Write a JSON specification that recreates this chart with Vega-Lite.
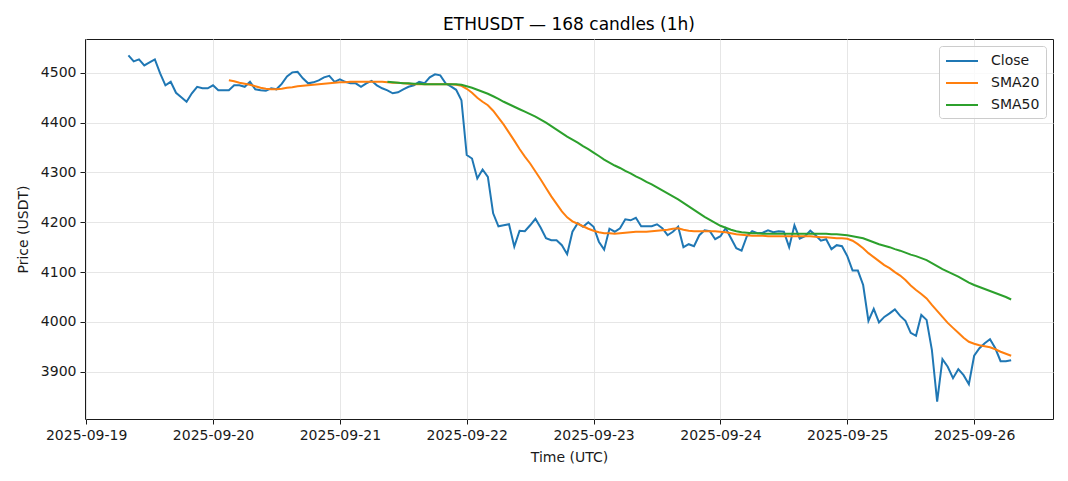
{
  "$schema": "https://vega.github.io/schema/vega-lite/v6.json",
  "width": 968,
  "height": 380,
  "autosize": {"type": "none"},
  "padding": {"left": 85, "top": 39, "right": 15, "bottom": 62},
  "title": {"text": "ETHUSDT — 168 candles (1h)", "fontSize": 17, "fontWeight": "normal", "offset": 5, "anchor": "middle", "color": "#000000"},
  "data": {"values": [
    {"t":"2025-09-19T08:00:00Z","Close":4535},
    {"t":"2025-09-19T09:00:00Z","Close":4523},
    {"t":"2025-09-19T10:00:00Z","Close":4527},
    {"t":"2025-09-19T11:00:00Z","Close":4515},
    {"t":"2025-09-19T12:00:00Z","Close":4521},
    {"t":"2025-09-19T13:00:00Z","Close":4527},
    {"t":"2025-09-19T14:00:00Z","Close":4499},
    {"t":"2025-09-19T15:00:00Z","Close":4475},
    {"t":"2025-09-19T16:00:00Z","Close":4482},
    {"t":"2025-09-19T17:00:00Z","Close":4460},
    {"t":"2025-09-19T18:00:00Z","Close":4451},
    {"t":"2025-09-19T19:00:00Z","Close":4442},
    {"t":"2025-09-19T20:00:00Z","Close":4459},
    {"t":"2025-09-19T21:00:00Z","Close":4472},
    {"t":"2025-09-19T22:00:00Z","Close":4469},
    {"t":"2025-09-19T23:00:00Z","Close":4469},
    {"t":"2025-09-20T00:00:00Z","Close":4475},
    {"t":"2025-09-20T01:00:00Z","Close":4465},
    {"t":"2025-09-20T02:00:00Z","Close":4465},
    {"t":"2025-09-20T03:00:00Z","Close":4465,"SMA20":4485},
    {"t":"2025-09-20T04:00:00Z","Close":4475,"SMA20":4483},
    {"t":"2025-09-20T05:00:00Z","Close":4475,"SMA20":4480},
    {"t":"2025-09-20T06:00:00Z","Close":4472,"SMA20":4478},
    {"t":"2025-09-20T07:00:00Z","Close":4482,"SMA20":4476},
    {"t":"2025-09-20T08:00:00Z","Close":4467,"SMA20":4473},
    {"t":"2025-09-20T09:00:00Z","Close":4465,"SMA20":4470},
    {"t":"2025-09-20T10:00:00Z","Close":4464,"SMA20":4468},
    {"t":"2025-09-20T11:00:00Z","Close":4469,"SMA20":4467},
    {"t":"2025-09-20T12:00:00Z","Close":4467,"SMA20":4467},
    {"t":"2025-09-20T13:00:00Z","Close":4478,"SMA20":4468},
    {"t":"2025-09-20T14:00:00Z","Close":4493,"SMA20":4470},
    {"t":"2025-09-20T15:00:00Z","Close":4501,"SMA20":4471},
    {"t":"2025-09-20T16:00:00Z","Close":4502,"SMA20":4473},
    {"t":"2025-09-20T17:00:00Z","Close":4489,"SMA20":4474},
    {"t":"2025-09-20T18:00:00Z","Close":4479,"SMA20":4475},
    {"t":"2025-09-20T19:00:00Z","Close":4481,"SMA20":4476},
    {"t":"2025-09-20T20:00:00Z","Close":4485,"SMA20":4477},
    {"t":"2025-09-20T21:00:00Z","Close":4491,"SMA20":4478},
    {"t":"2025-09-20T22:00:00Z","Close":4494,"SMA20":4479},
    {"t":"2025-09-20T23:00:00Z","Close":4482,"SMA20":4480},
    {"t":"2025-09-21T00:00:00Z","Close":4487,"SMA20":4481},
    {"t":"2025-09-21T01:00:00Z","Close":4482,"SMA20":4481},
    {"t":"2025-09-21T02:00:00Z","Close":4479,"SMA20":4482},
    {"t":"2025-09-21T03:00:00Z","Close":4479,"SMA20":4482},
    {"t":"2025-09-21T04:00:00Z","Close":4472,"SMA20":4482},
    {"t":"2025-09-21T05:00:00Z","Close":4479,"SMA20":4482},
    {"t":"2025-09-21T06:00:00Z","Close":4484,"SMA20":4482},
    {"t":"2025-09-21T07:00:00Z","Close":4475,"SMA20":4482},
    {"t":"2025-09-21T08:00:00Z","Close":4469,"SMA20":4482},
    {"t":"2025-09-21T09:00:00Z","Close":4465,"SMA20":4481,"SMA50":4482},
    {"t":"2025-09-21T10:00:00Z","Close":4459,"SMA20":4480,"SMA50":4481},
    {"t":"2025-09-21T11:00:00Z","Close":4461,"SMA20":4480,"SMA50":4480},
    {"t":"2025-09-21T12:00:00Z","Close":4467,"SMA20":4479,"SMA50":4479},
    {"t":"2025-09-21T13:00:00Z","Close":4472,"SMA20":4478,"SMA50":4479},
    {"t":"2025-09-21T14:00:00Z","Close":4475,"SMA20":4477,"SMA50":4478},
    {"t":"2025-09-21T15:00:00Z","Close":4482,"SMA20":4477,"SMA50":4478},
    {"t":"2025-09-21T16:00:00Z","Close":4479,"SMA20":4477,"SMA50":4477},
    {"t":"2025-09-21T17:00:00Z","Close":4491,"SMA20":4477,"SMA50":4477},
    {"t":"2025-09-21T18:00:00Z","Close":4497,"SMA20":4477,"SMA50":4477},
    {"t":"2025-09-21T19:00:00Z","Close":4495,"SMA20":4477,"SMA50":4477},
    {"t":"2025-09-21T20:00:00Z","Close":4479,"SMA20":4477,"SMA50":4477},
    {"t":"2025-09-21T21:00:00Z","Close":4473,"SMA20":4477,"SMA50":4477},
    {"t":"2025-09-21T22:00:00Z","Close":4466,"SMA20":4476,"SMA50":4477},
    {"t":"2025-09-21T23:00:00Z","Close":4445,"SMA20":4474,"SMA50":4476},
    {"t":"2025-09-22T00:00:00Z","Close":4335,"SMA20":4468,"SMA50":4473},
    {"t":"2025-09-22T01:00:00Z","Close":4328,"SMA20":4460,"SMA50":4470},
    {"t":"2025-09-22T02:00:00Z","Close":4288,"SMA20":4450,"SMA50":4466},
    {"t":"2025-09-22T03:00:00Z","Close":4306,"SMA20":4442,"SMA50":4462},
    {"t":"2025-09-22T04:00:00Z","Close":4291,"SMA20":4435,"SMA50":4458},
    {"t":"2025-09-22T05:00:00Z","Close":4218,"SMA20":4424,"SMA50":4453},
    {"t":"2025-09-22T06:00:00Z","Close":4192,"SMA20":4410,"SMA50":4448},
    {"t":"2025-09-22T07:00:00Z","Close":4194,"SMA20":4396,"SMA50":4442},
    {"t":"2025-09-22T08:00:00Z","Close":4196,"SMA20":4380,"SMA50":4437},
    {"t":"2025-09-22T09:00:00Z","Close":4151,"SMA20":4364,"SMA50":4432},
    {"t":"2025-09-22T10:00:00Z","Close":4183,"SMA20":4347,"SMA50":4427},
    {"t":"2025-09-22T11:00:00Z","Close":4182,"SMA20":4332,"SMA50":4422},
    {"t":"2025-09-22T12:00:00Z","Close":4194,"SMA20":4318,"SMA50":4417},
    {"t":"2025-09-22T13:00:00Z","Close":4207,"SMA20":4302,"SMA50":4412},
    {"t":"2025-09-22T14:00:00Z","Close":4189,"SMA20":4286,"SMA50":4406},
    {"t":"2025-09-22T15:00:00Z","Close":4168,"SMA20":4269,"SMA50":4400},
    {"t":"2025-09-22T16:00:00Z","Close":4164,"SMA20":4252,"SMA50":4393},
    {"t":"2025-09-22T17:00:00Z","Close":4164,"SMA20":4237,"SMA50":4386},
    {"t":"2025-09-22T18:00:00Z","Close":4154,"SMA20":4222,"SMA50":4379},
    {"t":"2025-09-22T19:00:00Z","Close":4136,"SMA20":4210,"SMA50":4372},
    {"t":"2025-09-22T20:00:00Z","Close":4181,"SMA20":4202,"SMA50":4366},
    {"t":"2025-09-22T21:00:00Z","Close":4198,"SMA20":4197,"SMA50":4360},
    {"t":"2025-09-22T22:00:00Z","Close":4191,"SMA20":4192,"SMA50":4353},
    {"t":"2025-09-22T23:00:00Z","Close":4200,"SMA20":4187,"SMA50":4347},
    {"t":"2025-09-23T00:00:00Z","Close":4191,"SMA20":4183,"SMA50":4340},
    {"t":"2025-09-23T01:00:00Z","Close":4161,"SMA20":4180,"SMA50":4333},
    {"t":"2025-09-23T02:00:00Z","Close":4145,"SMA20":4178,"SMA50":4326},
    {"t":"2025-09-23T03:00:00Z","Close":4187,"SMA20":4178,"SMA50":4320},
    {"t":"2025-09-23T04:00:00Z","Close":4181,"SMA20":4177,"SMA50":4314},
    {"t":"2025-09-23T05:00:00Z","Close":4188,"SMA20":4178,"SMA50":4309},
    {"t":"2025-09-23T06:00:00Z","Close":4206,"SMA20":4179,"SMA50":4303},
    {"t":"2025-09-23T07:00:00Z","Close":4204,"SMA20":4180,"SMA50":4298},
    {"t":"2025-09-23T08:00:00Z","Close":4209,"SMA20":4181,"SMA50":4292},
    {"t":"2025-09-23T09:00:00Z","Close":4192,"SMA20":4181,"SMA50":4287},
    {"t":"2025-09-23T10:00:00Z","Close":4192,"SMA20":4181,"SMA50":4281},
    {"t":"2025-09-23T11:00:00Z","Close":4192,"SMA20":4182,"SMA50":4276},
    {"t":"2025-09-23T12:00:00Z","Close":4196,"SMA20":4183,"SMA50":4270},
    {"t":"2025-09-23T13:00:00Z","Close":4188,"SMA20":4184,"SMA50":4264},
    {"t":"2025-09-23T14:00:00Z","Close":4174,"SMA20":4185,"SMA50":4258},
    {"t":"2025-09-23T15:00:00Z","Close":4181,"SMA20":4187,"SMA50":4252},
    {"t":"2025-09-23T16:00:00Z","Close":4191,"SMA20":4188,"SMA50":4246},
    {"t":"2025-09-23T17:00:00Z","Close":4150,"SMA20":4185,"SMA50":4239},
    {"t":"2025-09-23T18:00:00Z","Close":4156,"SMA20":4183,"SMA50":4232},
    {"t":"2025-09-23T19:00:00Z","Close":4152,"SMA20":4182,"SMA50":4225},
    {"t":"2025-09-23T20:00:00Z","Close":4174,"SMA20":4182,"SMA50":4218},
    {"t":"2025-09-23T21:00:00Z","Close":4184,"SMA20":4182,"SMA50":4211},
    {"t":"2025-09-23T22:00:00Z","Close":4182,"SMA20":4182,"SMA50":4205},
    {"t":"2025-09-23T23:00:00Z","Close":4166,"SMA20":4182,"SMA50":4199},
    {"t":"2025-09-24T00:00:00Z","Close":4172,"SMA20":4181,"SMA50":4193},
    {"t":"2025-09-24T01:00:00Z","Close":4188,"SMA20":4180,"SMA50":4189},
    {"t":"2025-09-24T02:00:00Z","Close":4168,"SMA20":4178,"SMA50":4185},
    {"t":"2025-09-24T03:00:00Z","Close":4148,"SMA20":4176,"SMA50":4182},
    {"t":"2025-09-24T04:00:00Z","Close":4143,"SMA20":4175,"SMA50":4180},
    {"t":"2025-09-24T05:00:00Z","Close":4172,"SMA20":4174,"SMA50":4179},
    {"t":"2025-09-24T06:00:00Z","Close":4182,"SMA20":4173,"SMA50":4178},
    {"t":"2025-09-24T07:00:00Z","Close":4178,"SMA20":4173,"SMA50":4178},
    {"t":"2025-09-24T08:00:00Z","Close":4179,"SMA20":4173,"SMA50":4177},
    {"t":"2025-09-24T09:00:00Z","Close":4184,"SMA20":4172,"SMA50":4177},
    {"t":"2025-09-24T10:00:00Z","Close":4180,"SMA20":4172,"SMA50":4177},
    {"t":"2025-09-24T11:00:00Z","Close":4182,"SMA20":4172,"SMA50":4177},
    {"t":"2025-09-24T12:00:00Z","Close":4181,"SMA20":4172,"SMA50":4177},
    {"t":"2025-09-24T13:00:00Z","Close":4150,"SMA20":4172,"SMA50":4177},
    {"t":"2025-09-24T14:00:00Z","Close":4194,"SMA20":4172,"SMA50":4177},
    {"t":"2025-09-24T15:00:00Z","Close":4167,"SMA20":4172,"SMA50":4177},
    {"t":"2025-09-24T16:00:00Z","Close":4172,"SMA20":4172,"SMA50":4177},
    {"t":"2025-09-24T17:00:00Z","Close":4183,"SMA20":4172,"SMA50":4177},
    {"t":"2025-09-24T18:00:00Z","Close":4174,"SMA20":4171,"SMA50":4177},
    {"t":"2025-09-24T19:00:00Z","Close":4163,"SMA20":4170,"SMA50":4177},
    {"t":"2025-09-24T20:00:00Z","Close":4166,"SMA20":4170,"SMA50":4177},
    {"t":"2025-09-24T21:00:00Z","Close":4146,"SMA20":4169,"SMA50":4176},
    {"t":"2025-09-24T22:00:00Z","Close":4154,"SMA20":4168,"SMA50":4176},
    {"t":"2025-09-24T23:00:00Z","Close":4152,"SMA20":4168,"SMA50":4175},
    {"t":"2025-09-25T00:00:00Z","Close":4132,"SMA20":4167,"SMA50":4174},
    {"t":"2025-09-25T01:00:00Z","Close":4103,"SMA20":4163,"SMA50":4172},
    {"t":"2025-09-25T02:00:00Z","Close":4103,"SMA20":4156,"SMA50":4170},
    {"t":"2025-09-25T03:00:00Z","Close":4074,"SMA20":4148,"SMA50":4168},
    {"t":"2025-09-25T04:00:00Z","Close":4002,"SMA20":4138,"SMA50":4164},
    {"t":"2025-09-25T05:00:00Z","Close":4026,"SMA20":4130,"SMA50":4160},
    {"t":"2025-09-25T06:00:00Z","Close":3999,"SMA20":4122,"SMA50":4156},
    {"t":"2025-09-25T07:00:00Z","Close":4010,"SMA20":4114,"SMA50":4153},
    {"t":"2025-09-25T08:00:00Z","Close":4017,"SMA20":4108,"SMA50":4150},
    {"t":"2025-09-25T09:00:00Z","Close":4025,"SMA20":4100,"SMA50":4146},
    {"t":"2025-09-25T10:00:00Z","Close":4012,"SMA20":4093,"SMA50":4143},
    {"t":"2025-09-25T11:00:00Z","Close":4002,"SMA20":4084,"SMA50":4139},
    {"t":"2025-09-25T12:00:00Z","Close":3978,"SMA20":4073,"SMA50":4135},
    {"t":"2025-09-25T13:00:00Z","Close":3972,"SMA20":4064,"SMA50":4132},
    {"t":"2025-09-25T14:00:00Z","Close":4014,"SMA20":4056,"SMA50":4128},
    {"t":"2025-09-25T15:00:00Z","Close":4004,"SMA20":4047,"SMA50":4124},
    {"t":"2025-09-25T16:00:00Z","Close":3944,"SMA20":4034,"SMA50":4118},
    {"t":"2025-09-25T17:00:00Z","Close":3840,"SMA20":4022,"SMA50":4112},
    {"t":"2025-09-25T18:00:00Z","Close":3925,"SMA20":4010,"SMA50":4106},
    {"t":"2025-09-25T19:00:00Z","Close":3910,"SMA20":3998,"SMA50":4101},
    {"t":"2025-09-25T20:00:00Z","Close":3887,"SMA20":3988,"SMA50":4096},
    {"t":"2025-09-25T21:00:00Z","Close":3905,"SMA20":3978,"SMA50":4091},
    {"t":"2025-09-25T22:00:00Z","Close":3893,"SMA20":3968,"SMA50":4085},
    {"t":"2025-09-25T23:00:00Z","Close":3875,"SMA20":3960,"SMA50":4079},
    {"t":"2025-09-26T00:00:00Z","Close":3932,"SMA20":3956,"SMA50":4074},
    {"t":"2025-09-26T01:00:00Z","Close":3947,"SMA20":3953,"SMA50":4070},
    {"t":"2025-09-26T02:00:00Z","Close":3957,"SMA20":3951,"SMA50":4066},
    {"t":"2025-09-26T03:00:00Z","Close":3965,"SMA20":3949,"SMA50":4062},
    {"t":"2025-09-26T04:00:00Z","Close":3947,"SMA20":3945,"SMA50":4058},
    {"t":"2025-09-26T05:00:00Z","Close":3921,"SMA20":3940,"SMA50":4054},
    {"t":"2025-09-26T06:00:00Z","Close":3921,"SMA20":3936,"SMA50":4050},
    {"t":"2025-09-26T07:00:00Z","Close":3923,"SMA20":3932,"SMA50":4045}
  ]},
  "transform": [
    {"fold": ["Close", "SMA20", "SMA50"], "as": ["series", "price"]},
    {"filter": "datum.price != null"}
  ],
  "mark": {"type": "line", "strokeWidth": 2, "interpolate": "linear", "clip": true},
  "encoding": {
    "x": {
      "field": "t", "type": "temporal",
      "scale": {"type": "utc", "domain": [
        {"year": 2025, "month": 9, "date": 18, "hours": 23, "minutes": 47, "utc": true},
        {"year": 2025, "month": 9, "date": 26, "hours": 14, "minutes": 55, "utc": true}
      ]},
      "axis": {
        "title": "Time (UTC)",
        "labelExpr": "utcFormat(datum.value, '%Y-%m-%d')",
        "values": [
          {"year": 2025, "month": 9, "date": 19, "utc": true},
          {"year": 2025, "month": 9, "date": 20, "utc": true},
          {"year": 2025, "month": 9, "date": 21, "utc": true},
          {"year": 2025, "month": 9, "date": 22, "utc": true},
          {"year": 2025, "month": 9, "date": 23, "utc": true},
          {"year": 2025, "month": 9, "date": 24, "utc": true},
          {"year": 2025, "month": 9, "date": 25, "utc": true},
          {"year": 2025, "month": 9, "date": 26, "utc": true}
        ],
        "labelAngle": 0, "labelFlush": false, "labelOverlap": false,
        "labelPadding": 4, "titlePadding": 8
      }
    },
    "y": {
      "field": "price", "type": "quantitative",
      "scale": {"domain": [3805, 4568], "nice": false, "zero": false},
      "axis": {
        "title": "Price (USDT)", "format": "d",
        "values": [3900, 4000, 4100, 4200, 4300, 4400, 4500],
        "labelPadding": 4, "titlePadding": 10
      }
    },
    "color": {
      "field": "series", "type": "nominal",
      "scale": {"domain": ["Close", "SMA20", "SMA50"], "range": ["#1f77b4", "#ff7f0e", "#2ca02c"]},
      "legend": {
        "title": null, "orient": "top-right", "offset": 7,
        "symbolType": "M-1,0L3,0", "symbolSize": 256, "symbolStrokeWidth": 2,
        "symbolFillColor": "transparent",
        "labelFontSize": 14, "labelOffset": 28, "labelColor": "#1a1a1a",
        "padding": 6, "rowPadding": 6,
        "strokeColor": "#cccccc", "fillColor": "rgba(255,255,255,0.8)", "cornerRadius": 3
      }
    }
  },
  "config": {
    "font": "DejaVu Sans",
    "background": "white",
    "view": {"stroke": "#1a1a1a", "strokeWidth": 1},
    "axis": {
      "domain": false, "grid": true, "gridColor": "#e6e6e6", "gridWidth": 1,
      "ticks": true, "tickColor": "#1a1a1a", "tickSize": 5, "tickWidth": 1,
      "labelColor": "#1a1a1a", "labelFontSize": 14,
      "titleFontSize": 14, "titleFontWeight": "normal", "titleColor": "#1a1a1a"
    }
  }
}
